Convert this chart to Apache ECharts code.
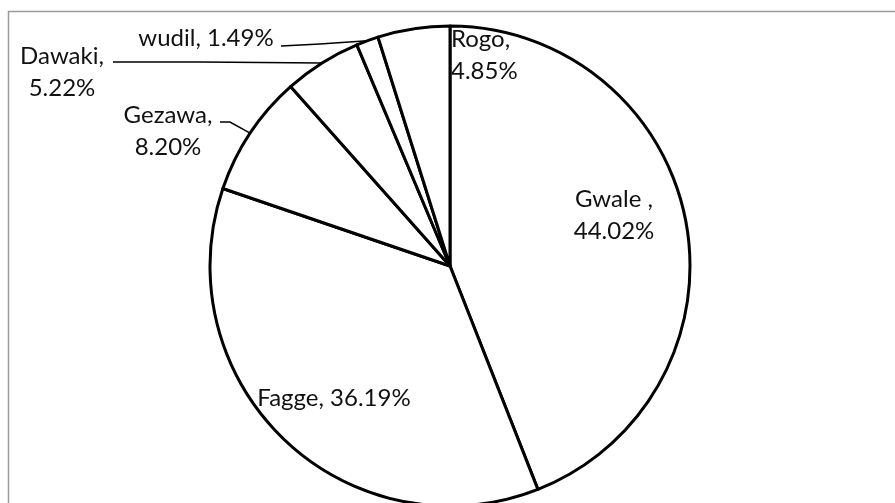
<!DOCTYPE html>
<html>
<head>
<meta charset="utf-8">
<script src="https://cdn.jsdelivr.net/npm/echarts@6/dist/echarts.min.js"></script>
<style>
  html, body { margin: 0; padding: 0; background: #fff; }
  #chart { width: 895px; height: 503px; }
</style>
</head>
<body>
<div id="chart"></div>
<script>
// slice names and shares (%), clockwise from 12 o'clock
const names = ['Gwale ', 'Fagge', 'Gezawa', 'Dawaki', 'wudil', 'Rogo'];
const shares = [44.02, 36.19, 8.20, 5.22, 1.49, 4.85];

// label placement (layout only)
const labelInside = [true, true, false, false, false, false];
const labelBreak = [true, false, true, true, false, true];
const labelAt = [[614, 215], [334, 398], [168, 131], [62, 72], [206, 38], [451, 55]];
const labelAlign = ['center', 'center', 'center', 'center', 'center', 'left'];
// leader line bend + end near each outside label
const leader = [
  null,
  null,
  [[230, 122], [220, 122]],
  [[200, 62], [113, 62]],
  [[320, 44], [281, 46]],
  [[435, 79], [450, 79]],
];

const chart = echarts.init(document.getElementById('chart'));

const option = {
  animation: false,
  backgroundColor: '#fff',
  graphic: [
    {
      type: 'rect',
      shape: { x: 8.5, y: 11.5, width: 1000, height: 1000 },
      style: { fill: 'none', stroke: '#9b9b9b', lineWidth: 1.5 },
      silent: true,
    },
  ],
  series: [
    {
      type: 'pie',
      center: [450, 266],
      radius: 240,
      startAngle: 90,
      clockwise: true,
      avoidLabelOverlap: false,
      silent: true,
      emphasis: { disabled: true },
      itemStyle: { color: '#fff', borderColor: '#000', borderWidth: 3 },
      label: {
        color: '#111',
        fontFamily: 'Lato',
        fontSize: 24,
        lineHeight: 32,
        formatter: (p) =>
          p.name + ',' + (labelBreak[p.dataIndex] ? '\n' : ' ') + p.value.toFixed(2) + '%',
      },
      labelLine: {
        show: true,
        length: 10,
        length2: 10,
        lineStyle: { color: '#000', width: 1.5 },
      },
      labelLayout: (params) => {
        const i = params.dataIndex;
        const out = {
          x: labelAt[i][0],
          y: labelAt[i][1],
          align: labelAlign[i],
          verticalAlign: 'middle',
        };
        if (leader[i] && params.labelLinePoints) {
          out.labelLinePoints = [params.labelLinePoints[0], leader[i][0], leader[i][1]];
        }
        return out;
      },
      data: names.map((n, i) => ({
        name: n,
        value: shares[i],
        label: { position: labelInside[i] ? 'inside' : 'outside' },
        labelLine: { show: !labelInside[i] },
      })),
    },
  ],
};

chart.setOption(option);
</script>
</body>
</html>
